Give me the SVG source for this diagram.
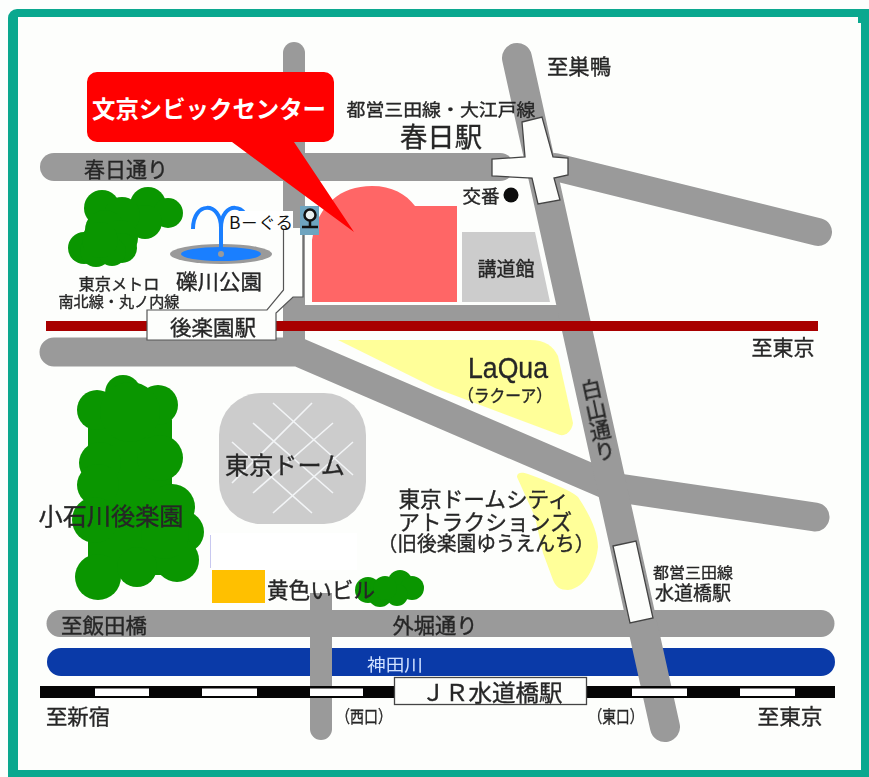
<svg xmlns="http://www.w3.org/2000/svg" width="869" height="777" viewBox="0 0 869 777">
<defs>
<filter id="soft" x="-5%" y="-5%" width="110%" height="110%"><feGaussianBlur stdDeviation="0.45"/></filter>
</defs>
<style>
text{font-family:"Noto Sans CJK JP","Noto Sans",sans-serif;fill:#262626;stroke:#262626;stroke-width:.35;text-anchor:middle;dominant-baseline:central}
.road{fill:none;stroke:#9a9a9a;stroke-linecap:round}
.tree{fill:#0a9600}
.box{fill:#fdfefc;stroke:#444;stroke-width:1.3}
.dome{stroke:#f2f4f6;stroke-width:1.6}
.seg{fill:#fff}
</style>
<rect width="869" height="777" fill="#fcfefd"/>
<rect x="8" y="9" width="870" height="780" rx="9" fill="#0aa88f"/>
<rect x="18" y="17" width="843" height="753" fill="#fdfefc"/>
<rect x="858" y="17" width="4" height="6" fill="#0aa88f"/>

<g id="map-shapes">
<g id="buildings">
<path d="M312 302V240C318 205 340 186 372 186C392 186 406 194 415 206H457V302Z" fill="#ff6666"/>
<path d="M462 232H535L550 302H462Z" fill="#cccccc"/>
<path d="M338 340H530C545 340 553 346 558 356L573 423C572 431 566 436 560 435L435 388Z" fill="#ffff99"/>
<path d="M517 477C517 472 522 472 528 474C550 482 570 490 578 497C590 515 598 532 598 547C596 565 586 588 568 590C560 590 556 587 553 580L543 553L535 517Z" fill="#ffff99"/>
<rect x="219" y="393" width="147" height="131" rx="42" fill="#cccccc"/>
<path class="dome" d="M232 442L312 513M253 423L333 493M273 403L353 475M312 403L232 483M333 423L253 493M353 442L273 513"/>
<rect x="210" y="533" width="147" height="37" fill="#ffffff"/>
<path d="M210.500 535V568" stroke="#c8c8f0" stroke-width="1"/>
<rect x="212" y="570" width="53" height="33" fill="#ffc000"/>
</g>
<g id="trees">
<g class="tree" id="tree-north">
<circle cx="102" cy="208" r="18"/><circle cx="148" cy="205" r="18"/><circle cx="168" cy="213" r="15"/><circle cx="145" cy="222" r="17"/><circle cx="122" cy="215" r="18"/><circle cx="105" cy="230" r="20"/><circle cx="120" cy="238" r="18"/><circle cx="122" cy="248" r="15"/><circle cx="84" cy="248" r="16"/><circle cx="96" cy="251" r="16"/><circle cx="112" cy="252" r="14"/><circle cx="100" cy="240" r="18"/>
</g>
<g class="tree" id="tree-koishikawa">
<rect x="88" y="420" width="84" height="155"/>
<circle cx="123" cy="393" r="18"/><circle cx="97" cy="410" r="20"/><circle cx="158" cy="405" r="20"/><circle cx="130" cy="412" r="30"/><circle cx="160" cy="458" r="23"/><circle cx="100" cy="463" r="21"/><circle cx="98" cy="485" r="21"/><circle cx="172" cy="507" r="23"/><circle cx="95" cy="520" r="23"/><circle cx="183" cy="532" r="21"/><circle cx="177" cy="560" r="22"/><circle cx="98" cy="577" r="23"/><circle cx="137" cy="567" r="20"/><circle cx="165" cy="535" r="24"/>
</g>
<g class="tree" id="tree-small">
<circle cx="368" cy="590" r="13"/><circle cx="400" cy="582" r="12"/><circle cx="412" cy="588" r="12"/><circle cx="380" cy="595" r="12"/><circle cx="397" cy="595" r="11"/><circle cx="385" cy="588" r="12"/>
</g>
</g>
<g id="roads">
<path class="road" stroke-width="22" d="M294 53V345"/>
<path class="road" stroke-width="28" d="M54 167H500"/>
<path class="road" stroke-width="28" d="M555 167L818 232"/>
<path d="M304 305H562V325H304Z" fill="#9a9a9a"/>
<path class="road" stroke-width="29" d="M54 352H298L612 487L815 517"/>
<path class="road" stroke-width="27" d="M60 623.500H821"/>
</g>
<path d="M61 648H821A14 14 0 0 1 821 676H61A14 14 0 0 1 61 648Z" fill="#0a3aa8"/>
<g id="roads-over">
<path d="M310 593H332V729A11 11 0 0 1 310 729Z" fill="#9a9a9a"/>
<path class="road" stroke-width="30" d="M517 58L665 727"/>
</g>
<path d="M46 326H818" stroke="#a80000" stroke-width="10"/>
<g id="rail">
<rect x="40" y="686" width="795" height="12" fill="#050505"/>
<rect class="seg" x="95" y="688.500" width="54" height="7.500"/>
<rect class="seg" x="202" y="688.500" width="55" height="7.500"/>
<rect class="seg" x="310" y="688.500" width="53" height="7.500"/>
<rect class="seg" x="632" y="688.500" width="55" height="7.500"/>
<rect class="seg" x="740" y="688.500" width="55" height="7.500"/>
</g>
<g id="fountain">
<ellipse cx="221" cy="254" rx="51" ry="10" fill="#9a9a9a"/>
<ellipse cx="221" cy="254" rx="40" ry="7" fill="#1a7fff"/>
<path d="M193 229C193 201 221 201 221 228V252M249 229C249 201 221 201 221 228" fill="none" stroke="#1a7fff" stroke-width="4"/>
<circle cx="221" cy="254" r="3" fill="#9a9a9a"/>
</g>
</g>

<g id="stations">
<g id="kasuga-station"><path class="box" d="M522 122L542 117L553 157L568 158V175L554 178L560 200L538 204L532 178L492 176V159L525 157Z"/><text x="441" y="108" font-size="17" textLength="189" lengthAdjust="spacingAndGlyphs" filter="url(#soft)">都営三田線・大江戸線</text><text x="441" y="135" font-size="27" textLength="82" lengthAdjust="spacingAndGlyphs" filter="url(#soft)">春日駅</text></g>
<g id="korakuen-station">
<path d="M283.500 228V290L267 310H147V340H276V313L293 297H303V228Z" fill="#fdfefc"/>
<path d="M283.500 228V290L267 310H147V340H276V313L293 297H303V228" fill="none" stroke="#555" stroke-width="1.200"/>
<text x="213" y="326" font-size="21" textLength="86" lengthAdjust="spacingAndGlyphs" filter="url(#soft)">後楽園駅</text></g>
<g id="suidobashi-subway"><path class="box" d="M613 546L636 541L653 618L630 623Z"/><text x="693" y="571" font-size="15" textLength="80" lengthAdjust="spacingAndGlyphs" filter="url(#soft)">都営三田線</text><text x="693" y="591" font-size="19" textLength="76" lengthAdjust="spacingAndGlyphs" filter="url(#soft)">水道橋駅</text></g>
<g id="jr-suidobashi"><rect class="box" x="394.500" y="677.500" width="192" height="27"/><text x="492" y="691" font-size="23" textLength="141" lengthAdjust="spacingAndGlyphs" filter="url(#soft)">ＪＲ水道橋駅</text></g>
</g>

<g id="bguru">
<rect x="230" y="211" width="63" height="19" fill="#fff"/>
<text x="261" y="221" font-size="17" textLength="64" lengthAdjust="spacingAndGlyphs" style="font-family:'Noto Sans CJK JP','Liberation Sans',sans-serif;fill:#111;stroke:none">B－ぐる</text>
<rect x="300" y="206" width="19" height="29" fill="#6ea4bf"/>
<circle cx="310" cy="215" r="5.500" fill="#e8f0f0" stroke="#111" stroke-width="2.500"/>
<path d="M310 220V226M302 227H318" stroke="#111" stroke-width="2.500" fill="none"/>
</g>

<g id="callout">
<path d="M97 72H324A10 10 0 0 1 334 82V132A10 10 0 0 1 324 142H294L354 232L232 142H97A10 10 0 0 1 87 132V82A10 10 0 0 1 97 72Z" fill="#ff0000"/>
<text x="209" y="108" font-size="23.500" font-weight="700" textLength="234" lengthAdjust="spacingAndGlyphs" style="fill:#fff;stroke:none">文京シビックセンター</text>
</g>

<g id="labels" filter="url(#soft)">
<text x="579" y="65" font-size="21" textLength="64" lengthAdjust="spacingAndGlyphs">至巣鴨</text>
<text x="126" y="168" font-size="21" textLength="84" lengthAdjust="spacingAndGlyphs">春日通り</text>
<text x="481" y="195" font-size="18" textLength="37" lengthAdjust="spacingAndGlyphs">交番</text>
<circle cx="511" cy="195" r="7.500" fill="#111"/>
<text x="506" y="267" font-size="19" textLength="57" lengthAdjust="spacingAndGlyphs">講道館</text>
<text x="219" y="280" font-size="21" textLength="86" lengthAdjust="spacingAndGlyphs">礫川公園</text>
<text x="119" y="283" font-size="16" textLength="81" lengthAdjust="spacingAndGlyphs">東京メトロ</text>
<text x="119" y="300" font-size="15" textLength="121" lengthAdjust="spacingAndGlyphs">南北線・丸ノ内線</text>
<text x="783" y="346" font-size="21" textLength="63" lengthAdjust="spacingAndGlyphs">至東京</text>
<text x="508" y="367" font-size="30" textLength="80" lengthAdjust="spacingAndGlyphs" style="font-family:'Liberation Sans',sans-serif">LaQua</text>
<text x="505" y="394" font-size="17" textLength="94" lengthAdjust="spacingAndGlyphs">（ラクーア）</text>
<text transform="translate(598 420) rotate(-12)" font-size="21" style="writing-mode:vertical-rl">白山通り</text>
<text x="285" y="463" font-size="24" textLength="120" lengthAdjust="spacingAndGlyphs">東京ドーム</text>
<text x="484" y="497" font-size="21.500" textLength="171" lengthAdjust="spacingAndGlyphs">東京ドームシティ</text>
<text x="485" y="520" font-size="21.500" textLength="174" lengthAdjust="spacingAndGlyphs">アトラクションズ</text>
<text x="486" y="542" font-size="20" textLength="217" lengthAdjust="spacingAndGlyphs">（旧後楽園ゆうえんち）</text>
<text x="111" y="514" font-size="24" textLength="145" lengthAdjust="spacingAndGlyphs">小石川後楽園</text>
<text x="321" y="588" font-size="21.500" textLength="108" lengthAdjust="spacingAndGlyphs">黄色いビル</text>
<text x="104" y="624" font-size="21" textLength="86" lengthAdjust="spacingAndGlyphs">至飯田橋</text>
<text x="435" y="624" font-size="21" textLength="85" lengthAdjust="spacingAndGlyphs">外堀通り</text>
<text x="395" y="663" font-size="17" textLength="56" lengthAdjust="spacingAndGlyphs" style="fill:#cfe0ff;stroke:none">神田川</text>
<text x="78" y="715" font-size="21" textLength="64" lengthAdjust="spacingAndGlyphs">至新宿</text>
<text x="364" y="715" font-size="17" textLength="56" lengthAdjust="spacingAndGlyphs">（西口）</text>
<text x="616" y="715" font-size="17" textLength="55" lengthAdjust="spacingAndGlyphs">（東口）</text>
<text x="790" y="715" font-size="21" textLength="65" lengthAdjust="spacingAndGlyphs">至東京</text>
</g>
</svg>
